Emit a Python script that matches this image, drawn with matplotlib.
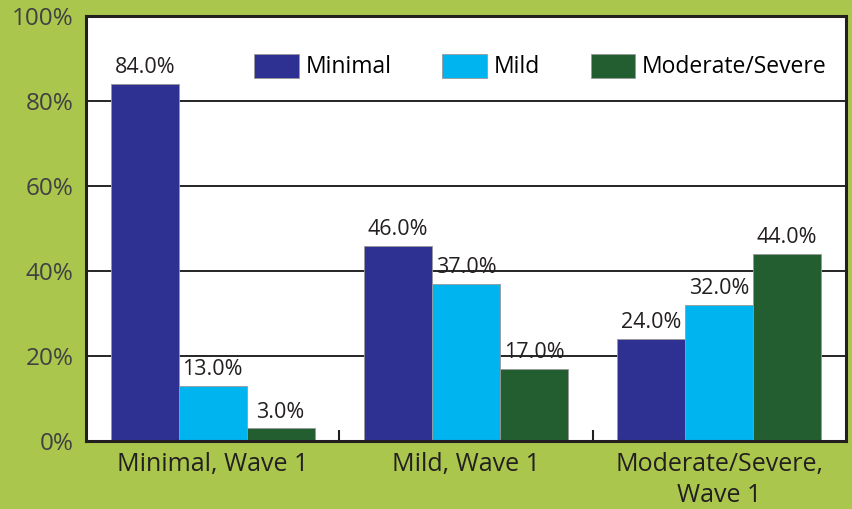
import numpy as np
import matplotlib.pyplot as plt

categories = ['Minimal, Wave 1', 'Mild, Wave 1', 'Moderate/Severe,\nWave 1']
series = ['Minimal', 'Mild', 'Moderate/Severe']
minimal = [84.0, 46.0, 24.0]
mild = [13.0, 37.0, 32.0]
moderate = [3.0, 17.0, 44.0]
yticks = [0, 20, 40, 60, 80, 100]

colors = ['#2e3192', '#00b4ef', '#235e31']
BG = '#abc64c'

plt.rcParams['font.family'] = ['Open Sans', 'DejaVu Sans']

fig = plt.figure(figsize=(8.53, 5.09), dpi=100, facecolor=BG)
ax = fig.add_axes([86 / 853, 68 / 509, 760 / 853, 425 / 509])
ax.set_facecolor('white')

x = np.arange(len(categories))
w = 0.268
for i, (name, vals) in enumerate(zip(series, [minimal, mild, moderate])):
    pos = x + (i - 1) * w
    bars = ax.bar(pos, vals, w, color=colors[i], edgecolor='#999999',
                  linewidth=0.6, label=name, zorder=3)
    for b, v in zip(bars, vals):
        ax.text(b.get_x() + b.get_width() / 2, v + 1.3, f'{v:.1f}%',
                ha='center', va='bottom', fontsize=15.5, color='#231f20', zorder=4)

ax.set_xlim(-0.5, 2.5)
ax.set_ylim(0, 100)
ax.set_yticks(yticks)
ax.set_yticklabels([f'{t}%' for t in yticks], fontsize=17.5, color='#414042')
ax.yaxis.grid(True, color='black', linewidth=1.2, zorder=1)
ax.tick_params(axis='y', length=0, pad=9)

ax.set_xticks([0.5, 1.5], minor=True)
ax.set_xticks(x)
ax.set_xticklabels(categories, fontsize=18, color='#231f20', linespacing=1.3)
ax.tick_params(axis='x', which='major', length=0, pad=8)
ax.tick_params(axis='x', which='minor', direction='in', length=8, width=1.5, color='#231f20')

for s in ax.spines.values():
    s.set_color('#231f20')
    s.set_linewidth(2.2)
    s.set_zorder(5)

ax.legend(loc='upper right', bbox_to_anchor=(0.993, 0.944), ncol=3, frameon=False,
          fontsize=16.5, handlelength=1.95, handleheight=1.25, columnspacing=2.2,
          handletextpad=0.3, borderaxespad=0.2)

plt.savefig('out.png', dpi=100, facecolor=BG)
